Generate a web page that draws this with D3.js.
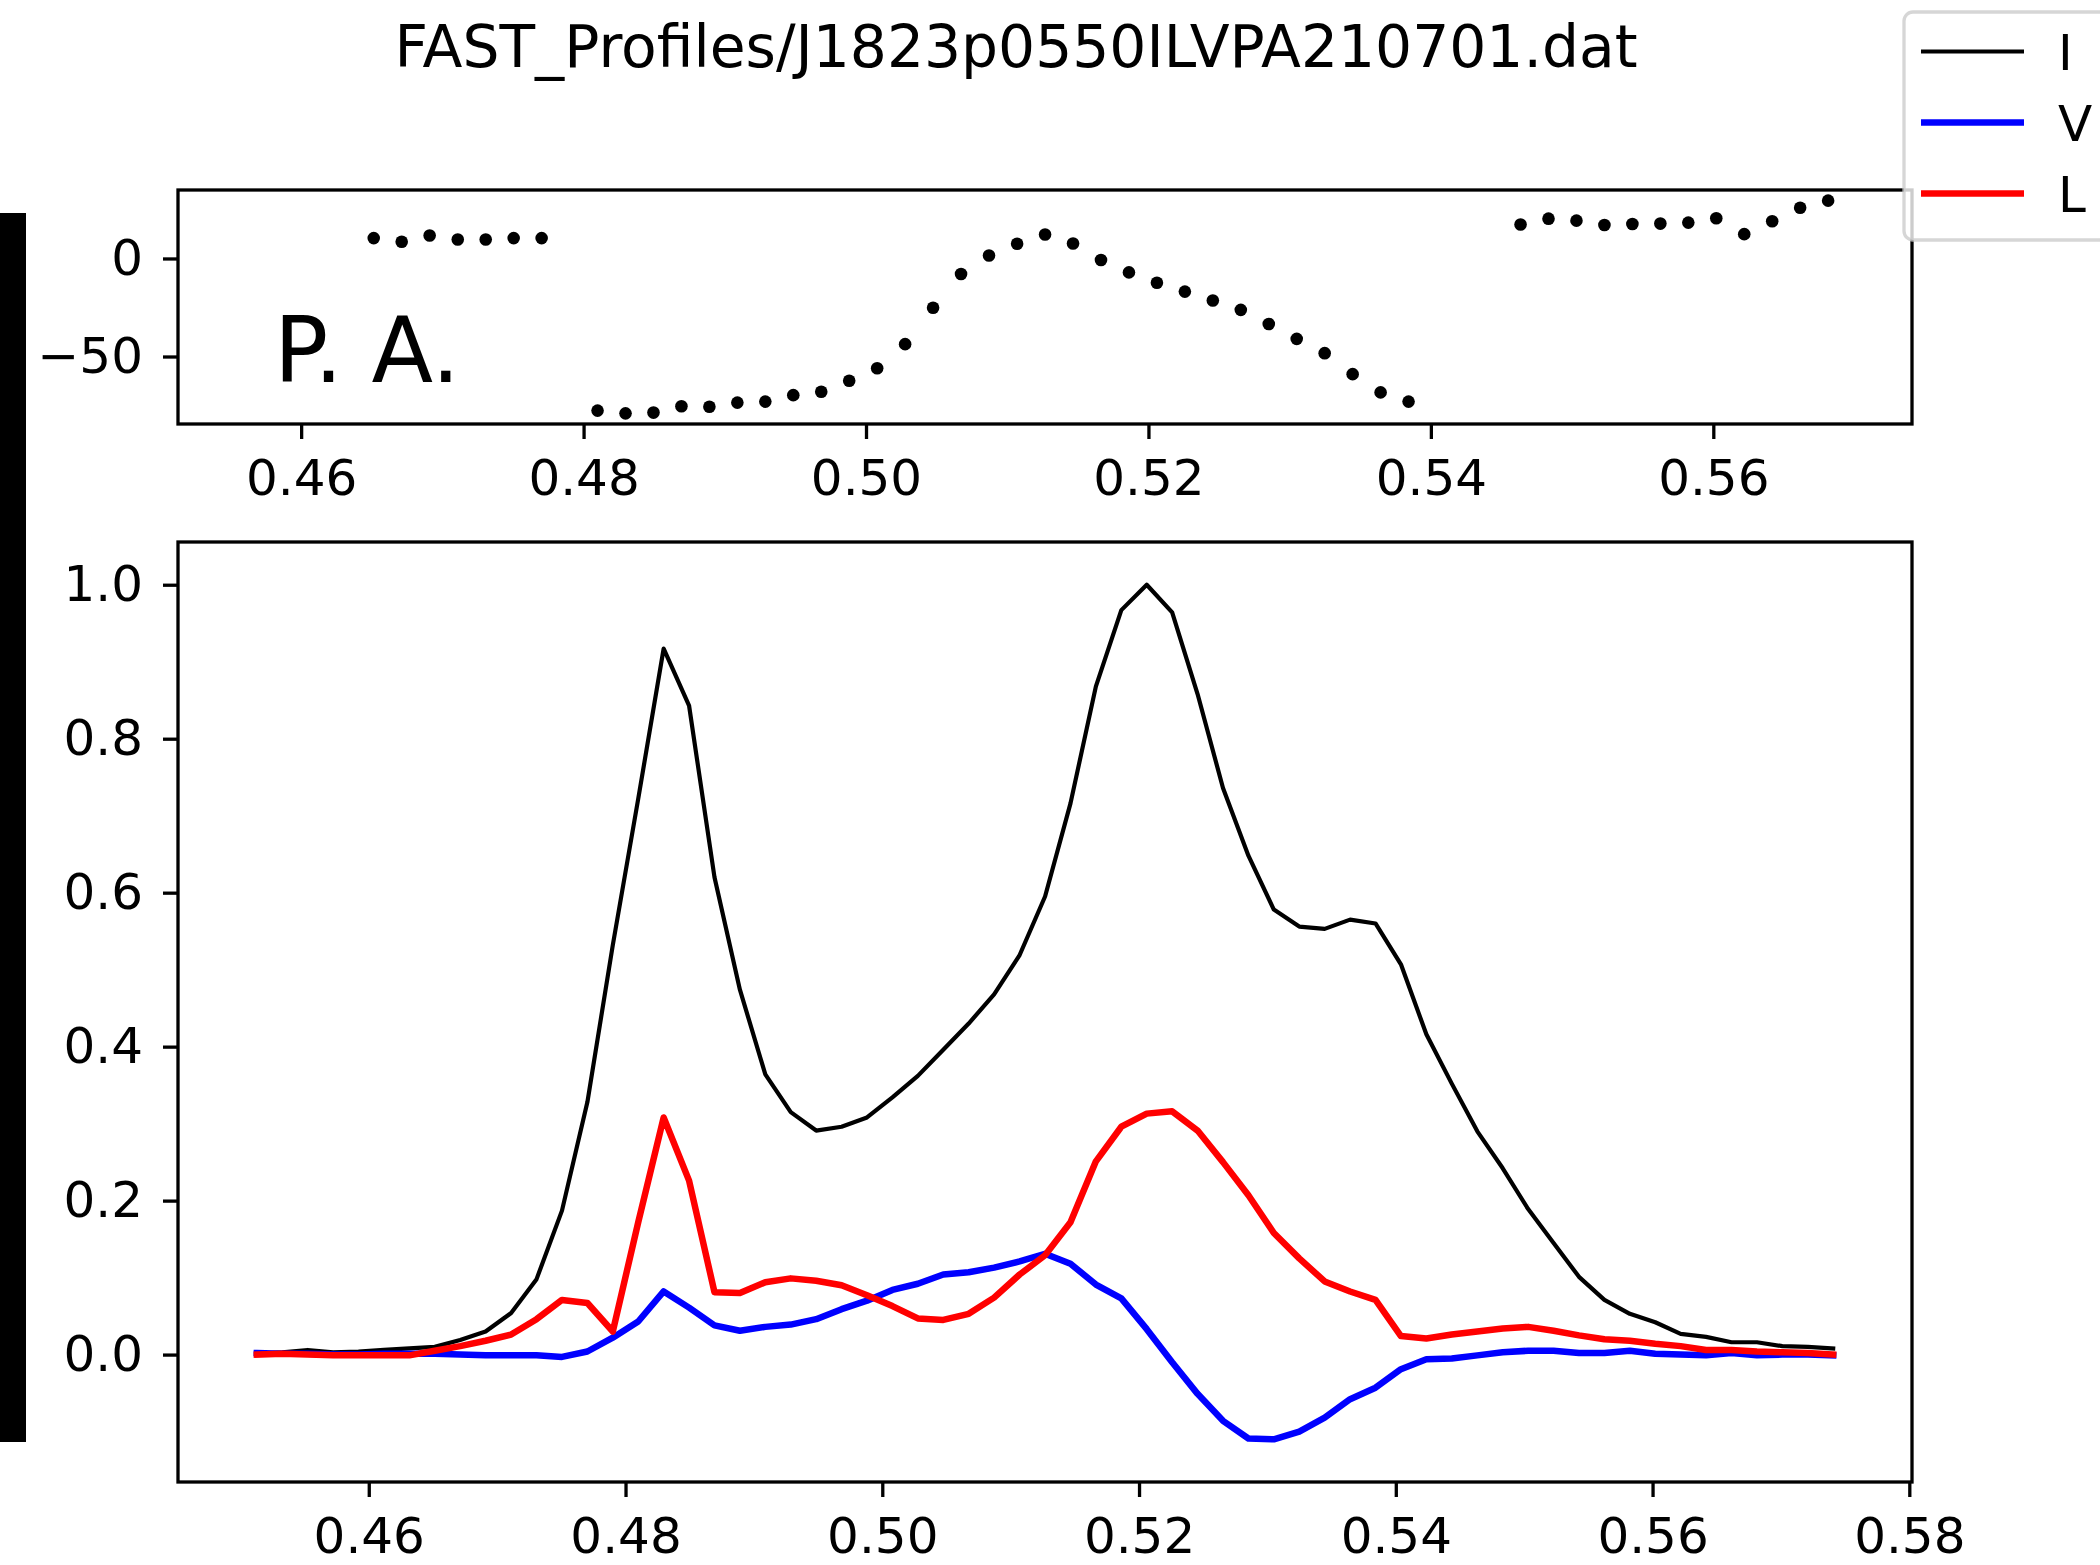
<!DOCTYPE html>
<html>
<head>
<meta charset="utf-8">
<script src="https://cdn.jsdelivr.net/npm/d3@7"></script>
<style>
    body { margin: 0; background: #fff; }
    svg text { font-family: "DejaVu Sans", sans-serif; fill: #000; }
</style>
</head>
<body>
<div id="chart"></div>
<script>
// pulse phase of every bin
let phase = [
    0.45128, 0.45326, 0.45524, 0.45722, 0.45920, 0.46118, 0.46316, 0.46514, 0.46712, 0.46910,
    0.47109, 0.47307, 0.47505, 0.47703, 0.47901, 0.48099, 0.48297, 0.48495, 0.48693, 0.48891,
    0.49089, 0.49287, 0.49485, 0.49683, 0.49881, 0.50079, 0.50277, 0.50475, 0.50673, 0.50871,
    0.51070, 0.51268, 0.51466, 0.51664, 0.51862, 0.52060, 0.52258, 0.52456, 0.52654, 0.52852,
    0.53050, 0.53248, 0.53446, 0.53644, 0.53842, 0.54040, 0.54238, 0.54436, 0.54635, 0.54833,
    0.55031, 0.55229, 0.55427, 0.55625, 0.55823, 0.56021, 0.56219, 0.56417, 0.56615, 0.56813,
    0.57011, 0.57209, 0.57407
];

let stokesI = [
    0.001, 0.003, 0.006, 0.003, 0.004, 0.006, 0.008, 0.010, 0.019, 0.030,
    0.054, 0.098, 0.187, 0.328, 0.532, 0.722, 0.917, 0.843, 0.620, 0.474,
    0.364, 0.315, 0.291, 0.296, 0.308, 0.334, 0.362, 0.396, 0.430, 0.468,
    0.519, 0.595, 0.716, 0.868, 0.967, 1.000, 0.964, 0.858, 0.736, 0.648,
    0.578, 0.556, 0.553, 0.565, 0.560, 0.507, 0.416, 0.352, 0.290, 0.242,
    0.189, 0.145, 0.101, 0.071, 0.053, 0.042, 0.027, 0.023, 0.016, 0.016,
    0.011, 0.010, 0.008
];

let stokesV = [
    0.002, 0.001, 0.001, 0.000, 0.000, 0.001, 0.001, 0.001, 0.000, -0.001,
    -0.001, -0.001, -0.003, 0.004, 0.022, 0.043, 0.082, 0.061, 0.038, 0.031,
    0.036, 0.039, 0.046, 0.059, 0.070, 0.084, 0.092, 0.104, 0.107, 0.113,
    0.121, 0.131, 0.118, 0.091, 0.073, 0.033, -0.010, -0.051, -0.086, -0.109,
    -0.110, -0.100, -0.082, -0.058, -0.043, -0.019, -0.006, -0.005, -0.001, 0.003,
    0.005, 0.005, 0.002, 0.002, 0.005, 0.001, 0.000, -0.001, 0.002, -0.001,
    0.000, 0.000, -0.001
];

let linearL = [
    0.000, 0.001, 0.000, -0.001, -0.001, -0.001, -0.001, 0.005, 0.011, 0.018,
    0.026, 0.046, 0.071, 0.067, 0.030, 0.172, 0.308, 0.226, 0.081, 0.080,
    0.094, 0.099, 0.096, 0.090, 0.077, 0.063, 0.047, 0.045, 0.053, 0.074,
    0.104, 0.129, 0.172, 0.251, 0.296, 0.313, 0.316, 0.291, 0.250, 0.207,
    0.158, 0.125, 0.095, 0.082, 0.071, 0.024, 0.021, 0.026, 0.030, 0.034,
    0.036, 0.031, 0.025, 0.020, 0.018, 0.014, 0.011, 0.006, 0.006, 0.004,
    0.003, 0.002, 0.000
];

// position angle in degrees, null where it was not measured
let posAngle = [
    null, null, null, null, null, null, null,
    10.4, 8.5, 11.7, 9.7, 9.7, 10.4, 10.4,
    null,
    -77.6, -79.0, -78.6, -75.4, -75.6, -73.5, -73.0, -69.7, -68.0, -62.4,
    -56.0, -43.7, -25.1, -7.9, 1.5,
    7.5, 12.2, 7.6, -0.8, -7.1, -12.4, -16.9, -21.4, -26.2, -33.4,
    -41.0, -48.3, -59.0, -68.3, -73.0,
    null, null, null,
    17.3, 20.3, 19.3, 17.1, 17.6, 17.8, 18.3, 20.5, 12.4, 19.0, 25.9, 29.5,
    null, null, null
];

let profXTicks = [0.46, 0.48, 0.50, 0.52, 0.54, 0.56, 0.58];
let paXTicks = [0.46, 0.48, 0.50, 0.52, 0.54, 0.56];
let profYTicks = [0.0, 0.2, 0.4, 0.6, 0.8, 1.0];
let paYTicks = [-50, 0];
let seriesNames = ['I', 'V', 'L'];
let titleText = 'FAST_Profiles/J1823p0550ILVPA210701.dat';

let width = 2100;
let height = 1565;
let fontPx = 50;
let spineW = 3.3;

let paBox = {left: 178, right: 1912, top: 190, bottom: 424};
let profBox = {left: 178, right: 1912, top: 542, bottom: 1482};

function padded(ext) {
    let r = ext[1] - ext[0];
    return [ext[0] - 0.05 * r, ext[1] + 0.05 * r];
}

let svg = d3.select('#chart')
    .append('svg')
    .attr('width', width)
    .attr('height', height)
    .attr('class', 'figure')
;

// mysterious black bar on the left edge
svg.append('rect')
    .attr('x', 0)
    .attr('y', 213)
    .attr('width', 26)
    .attr('height', 1229)
    .attr('fill', '#000');

svg.append('text')
    .attr('x', 1016)
    .attr('y', 67)
    .attr('text-anchor', 'middle')
    .style('font-size', '58.3px')
    .text(titleText);

// ---- scales
let xPa = d3.scaleLinear()
    .domain(d3.extent(phase))
    .range([paBox.left, paBox.right]);

let yPa = d3.scaleLinear()
    .domain(padded(d3.extent(posAngle.filter(function(d) { return d !== null; }))))
    .range([paBox.bottom, paBox.top]);

let xProf = d3.scaleLinear()
    .domain(padded(d3.extent(phase)))
    .range([profBox.left, profBox.right]);

let yProf = d3.scaleLinear()
    .domain(padded(d3.extent(stokesI.concat(stokesV, linearL))))
    .range([profBox.bottom, profBox.top]);

function styleAxis(g) {
    g.select('.domain').remove();
    g.attr('font-family', null).attr('font-size', null);
    g.selectAll('.tick line')
        .attr('stroke', '#000')
        .attr('stroke-width', spineW);
    g.selectAll('.tick text')
        .style('font-size', fontPx + 'px');
}

// ---- P.A. panel
let paPanel = svg.append('g').attr('class', 'pa-panel');

paPanel.append('g')
    .attr('transform', 'translate(0,' + paBox.bottom + ')')
    .call(d3.axisBottom(xPa).tickValues(paXTicks).tickFormat(d3.format('.2f')).tickSize(15).tickPadding(20))
    .call(styleAxis);

paPanel.append('g')
    .attr('transform', 'translate(' + paBox.left + ',0)')
    .call(d3.axisLeft(yPa).tickValues(paYTicks).tickFormat(d3.format('d')).tickSize(15).tickPadding(20))
    .call(styleAxis);

let paPoints = phase
    .map(function(p, i) { return {x: p, y: posAngle[i]}; })
    .filter(function(d) { return d.y !== null; });

paPanel.append('g')
    .selectAll('circle')
    .data(paPoints)
    .enter()
    .append('circle')
    .attr('cx', function(d) { return xPa(d.x); })
    .attr('cy', function(d) { return yPa(d.y); })
    .attr('r', 6.3)
    .attr('fill', '#000');

paPanel.append('text')
    .attr('x', 274)
    .attr('y', 382)
    .style('font-size', '90px')
    .text('P. A.');

paPanel.append('rect')
    .attr('x', paBox.left)
    .attr('y', paBox.top)
    .attr('width', paBox.right - paBox.left)
    .attr('height', paBox.bottom - paBox.top)
    .attr('fill', 'none')
    .attr('stroke', '#000')
    .attr('stroke-width', spineW);

// ---- profile panel
let profPanel = svg.append('g').attr('class', 'profile-panel');

profPanel.append('g')
    .attr('transform', 'translate(0,' + profBox.bottom + ')')
    .call(d3.axisBottom(xProf).tickValues(profXTicks).tickFormat(d3.format('.2f')).tickSize(15).tickPadding(20))
    .call(styleAxis);

profPanel.append('g')
    .attr('transform', 'translate(' + profBox.left + ',0)')
    .call(d3.axisLeft(yProf).tickValues(profYTicks).tickFormat(d3.format('.1f')).tickSize(15).tickPadding(20))
    .call(styleAxis);

let profLine = d3.line()
    .x(function(d, i) { return xProf(phase[i]); })
    .y(function(d) { return yProf(d); });

let seriesData = [stokesI, stokesV, linearL];
let seriesColor = ['#000000', '#0000ff', '#ff0000'];
let seriesWidth = [4.2, 6.5, 6.5];

profPanel.append('g')
    .selectAll('path')
    .data(seriesData)
    .enter()
    .append('path')
    .attr('d', function(d) { return profLine(d); })
    .attr('fill', 'none')
    .attr('stroke', function(d, i) { return seriesColor[i]; })
    .attr('stroke-width', function(d, i) { return seriesWidth[i]; })
    .attr('stroke-linejoin', 'round')
    .attr('stroke-linecap', 'square');

profPanel.append('rect')
    .attr('x', profBox.left)
    .attr('y', profBox.top)
    .attr('width', profBox.right - profBox.left)
    .attr('height', profBox.bottom - profBox.top)
    .attr('fill', 'none')
    .attr('stroke', '#000')
    .attr('stroke-width', spineW);

// ---- legend, runs off the right edge like the original
let legend = svg.append('g').attr('class', 'legend');

legend.append('rect')
    .attr('x', 1904)
    .attr('y', 12)
    .attr('width', 260)
    .attr('height', 228)
    .attr('rx', 9)
    .attr('fill', '#fff')
    .attr('fill-opacity', 0.8)
    .attr('stroke', '#cccccc')
    .attr('stroke-opacity', 0.8)
    .attr('stroke-width', 3.3);

let legendItems = legend.selectAll('.legend-item')
    .data(seriesNames)
    .enter()
    .append('g')
    .attr('class', 'legend-item')
    .attr('transform', function(d, i) { return 'translate(0,' + (51.5 + i * 71) + ')'; });

legendItems.append('line')
    .attr('x1', 1921)
    .attr('x2', 2024)
    .attr('stroke', function(d, i) { return seriesColor[i]; })
    .attr('stroke-width', function(d, i) { return seriesWidth[i]; });

legendItems.append('text')
    .attr('x', 2058)
    .attr('dy', '0.37em')
    .style('font-size', fontPx + 'px')
    .text(function(d) { return d; });
</script>
</body>
</html>
